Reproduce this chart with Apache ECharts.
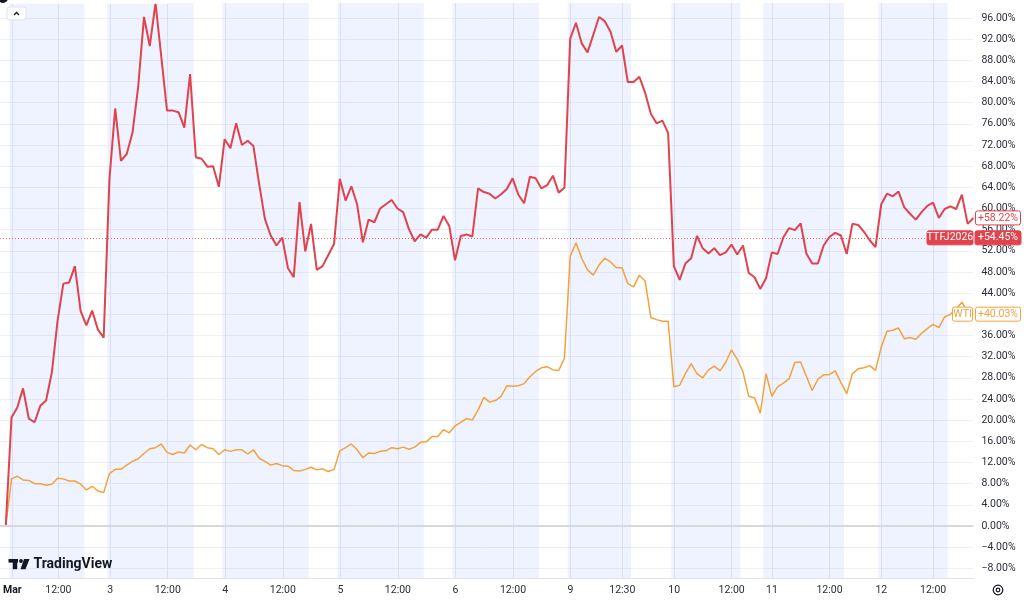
<!DOCTYPE html>
<html>
<head>
<meta charset="utf-8">
<script src="https://cdn.jsdelivr.net/npm/echarts@6/dist/echarts.min.js"></script>
<style>
html, body { margin: 0; padding: 0; background: #fff; }
#chart { width: 1024px; height: 600px; }
</style>
</head>
<body>
<div id="chart"></div>
<script>
// % change since start, one value per 30-min bar
var ttf = [
    0, 0, 20.5, 22.4, 26.0, 20.3, 19.6, 22.7, 23.7, 29.0,
    38.8, 45.8, 46.0, 49.1, 40.6, 37.9, 40.7, 37.1, 35.6, 65.5,
    78.9, 69.0, 70.3, 74.3, 83.1, 96.2, 90.7, 98.8, 88.7, 78.5,
    78.5, 78.2, 75.3, 85.4, 69.7, 69.4, 67.9, 68.0, 64.1, 73.1,
    71.4, 76.1, 72.0, 72.8, 71.8, 64.6, 58.0, 54.9, 53.0, 54.5,
    48.7, 47.0, 61.2, 51.9, 57.1, 48.4, 49.1, 51.2, 53.3, 65.6,
    61.5, 64.2, 60.8, 53.6, 57.9, 57.4, 60.0, 60.8, 61.6, 60.0,
    59.3, 56.1, 53.8, 55.1, 54.5, 56.0, 56.0, 58.6, 56.7, 50.2,
    54.8, 55.1, 54.7, 63.8, 63.1, 62.8, 61.9, 62.7, 63.7, 65.7,
    62.6, 61.0, 66.0, 65.7, 63.8, 64.4, 66.2, 63.0, 63.9, 92.1,
    95.1, 91.2, 89.5, 92.8, 96.2, 95.4, 93.4, 89.6, 90.8, 83.9,
    83.9, 84.9, 81.9, 77.9, 76.1, 76.6, 74.3, 49.1, 46.5, 49.6,
    50.6, 54.8, 52.5, 51.5, 52.5, 51.2, 51.7, 53.2, 51.3, 53.0,
    47.8, 47.0, 44.8, 46.8, 51.7, 51.4, 54.5, 56.3, 55.9, 57.2,
    51.5, 49.6, 49.6, 53.0, 54.6, 55.4, 54.9, 51.4, 57.1, 56.9,
    55.6, 54.0, 52.7, 60.8, 62.8, 62.3, 63.2, 60.2, 59.0, 57.9,
    59.3, 60.5, 61.1, 58.2, 59.9, 60.4, 59.9, 62.6, 57.1, 58.2
];
var wti = [
    0, 0, 8.9, 9.4, 8.7, 8.6, 8.0, 8.0, 7.7, 7.9,
    9.0, 8.9, 8.5, 8.5, 7.9, 6.8, 7.5, 6.6, 6.3, 9.9,
    10.7, 10.7, 11.5, 12.2, 12.7, 13.7, 14.6, 14.8, 15.5, 13.9,
    13.5, 14.0, 13.8, 15.3, 14.4, 15.4, 14.8, 14.6, 13.5, 14.4,
    14.1, 14.4, 14.4, 13.6, 14.4, 12.8, 12.2, 11.5, 11.8, 11.4,
    11.3, 10.5, 10.4, 10.7, 11.1, 10.6, 10.8, 10.3, 10.7, 14.2,
    14.8, 15.5, 14.4, 12.9, 13.8, 13.7, 14.1, 14.2, 14.8, 14.6,
    14.9, 14.5, 14.9, 15.8, 15.9, 16.9, 16.9, 18.2, 17.6, 18.9,
    19.6, 20.3, 20.0, 21.9, 24.3, 23.4, 23.7, 24.5, 26.5, 26.4,
    26.5, 26.9, 28.2, 29.2, 29.9, 30.1, 29.5, 29.4, 31.7, 51.0,
    53.5, 50.6, 48.4, 47.4, 49.3, 50.6, 49.9, 48.8, 48.8, 45.8,
    45.2, 47.4, 46.3, 39.4, 39.0, 38.7, 38.7, 26.3, 26.6, 28.8,
    30.7, 28.8, 28.0, 29.5, 30.2, 29.3, 30.9, 33.3, 31.5, 29.1,
    24.5, 24.2, 21.3, 28.8, 24.5, 26.3, 27.0, 27.8, 30.9, 31.0,
    28.3, 25.6, 27.7, 28.6, 28.6, 29.3, 27.1, 25.0, 28.8, 29.7,
    29.9, 30.3, 29.4, 33.8, 36.8, 37.0, 37.4, 35.4, 35.6, 35.3,
    36.4, 37.3, 38.1, 37.5, 39.5, 40.0, 41.0, 42.3, 40.5, 40.0
];
// bar index of each time label
var tickIdx = [2, 10, 19, 29, 39, 49, 59, 69, 79, 89, 99, 108, 117, 127, 134, 144, 153, 162];
var tickLabels = ['Mar', '12:00', '3', '12:00', '4', '12:00', '5', '12:00', '6', '12:00',
                  '9', '12:30', '10', '12:00', '11', '12:00', '12', '12:00'];
// shaded session ranges, in bar index units
var sessions = [[1.5, 14.5], [18.5, 33.5], [38.5, 53.5], [58.5, 73.5], [78.5, 93.5],
                [98.5, 109.5], [116.5, 128.5], [132.5, 146.5], [152.5, 164.5]];
var ttfLast = 58.22, ttfLine = 54.45, wtiLast = 40.03;

var RED = '#e1434d', ORANGE = '#f4a23d';
var FONT = 'Roboto, sans-serif';

var slots = ttf.map(function (v, i) { return i; });
var tickMap = {};
tickIdx.forEach(function (p, k) { tickMap[p] = tickLabels[k]; });
function isTick(i) { return tickMap[i] !== undefined; }

var chart = echarts.init(document.getElementById('chart'));

var option = {
    animation: false,
    textStyle: { fontFamily: FONT },
    grid: [
        { left: -1.77, right: 50.6, top: 3, bottom: 22 },
        { left: -1.77, right: 50.6, top: 18, bottom: 31.7 }
    ],
    xAxis: [
        {
            type: 'category', gridIndex: 0, data: slots, boundaryGap: false,
            axisLine: { show: true, lineStyle: { color: '#e0e3eb' } },
            axisTick: { show: false },
            axisLabel: {
                interval: function (i) { return isTick(i); },
                formatter: function (v, i) {
                    var t = tickMap[i] || '';
                    return t === 'Mar' ? '{m|Mar}' : t;
                },
                margin: 7, fontSize: 10.5, color: '#2a2e39',
                rich: { m: { fontWeight: 'bold', fontSize: 10.5, color: '#131722' } }
            },
            splitLine: {
                show: true,
                interval: function (i) { return isTick(i); },
                lineStyle: { color: '#e8ebf2' }
            }
        },
        { type: 'value', gridIndex: 0, min: 0, max: slots.length - 1, show: false },
        { type: 'category', gridIndex: 1, data: slots, boundaryGap: false, show: false }
    ],
    yAxis: [
        { type: 'value', gridIndex: 0, min: 0, max: 1, show: false },
        {
            type: 'value', gridIndex: 1, position: 'right',
            min: -8, max: 96, interval: 4,
            axisLine: { show: false }, axisTick: { show: false },
            axisLabel: {
                margin: 8, fontSize: 10.5, color: '#2a2e39',
                formatter: function (v) {
                    return (v < 0 ? '\u2212' : '') + Math.abs(v).toFixed(2) + '%';
                }
            },
            splitLine: { lineStyle: { color: '#eef0f4' } }
        }
    ],
    series: [
        {
            // session shading
            type: 'line', xAxisIndex: 1, yAxisIndex: 0, data: [[0, 0]],
            symbol: 'none', lineStyle: { opacity: 0 }, silent: true, z: 0,
            markArea: {
                silent: true,
                itemStyle: { color: 'rgba(41,98,255,0.075)' },
                data: sessions.map(function (s) { return [{ xAxis: s[0] }, { xAxis: s[1] }]; })
            }
        },
        {
            // zero line
            type: 'line', xAxisIndex: 2, yAxisIndex: 1, data: [], z: 1, silent: true,
            markLine: {
                symbol: 'none', silent: true, label: { show: false },
                lineStyle: { color: '#d6d8de', width: 2, type: 'solid' },
                data: [{ yAxis: 0 }]
            }
        },
        {
            name: 'WTI', type: 'line', xAxisIndex: 2, yAxisIndex: 1,
            data: wti, symbol: 'none', clip: false,
            lineStyle: { color: ORANGE, width: 1.5 }
        },
        {
            name: 'TTFJ2026', type: 'line', xAxisIndex: 2, yAxisIndex: 1,
            data: ttf, symbol: 'none', clip: false,
            lineStyle: { color: RED, width: 2 },
            markLine: {
                symbol: 'none', silent: true, label: { show: false },
                lineStyle: { color: RED, width: 1, type: [1, 2], opacity: 0.8 },
                data: [{ yAxis: ttfLine }]
            }
        }
    ]
};
chart.setOption(option);

function yPix(v) { return chart.convertToPixel({ yAxisIndex: 1 }, v); }

function box(x, y, w, text, color, filled) {
    return [
        {
            type: 'rect', shape: { x: x, y: y - 7, width: w, height: 14, r: 2 },
            style: { fill: filled ? color : '#fff', stroke: color, lineWidth: 1 }, z: 10
        },
        {
            type: 'text', x: x + w / 2, y: y,
            style: {
                text: text, fill: filled ? '#fff' : color, font: '10.5px ' + FONT,
                align: 'center', verticalAlign: 'middle'
            }, z: 11
        }
    ];
}

var g = [];
g = g.concat(box(975.5, yPix(ttfLast), 45, '+' + ttfLast.toFixed(2) + '%', RED, false));
g = g.concat(box(927, yPix(ttfLine), 46, 'TTFJ2026', RED, true));
g = g.concat(box(975, yPix(ttfLine), 46, '+' + ttfLine.toFixed(2) + '%', RED, true));
g = g.concat(box(952.5, yPix(wtiLast), 20, 'WTI', ORANGE, false));
g = g.concat(box(975.5, yPix(wtiLast), 45, '+' + wtiLast.toFixed(2) + '%', ORANGE, false));

// top-left bits
g.push({ type: 'rect', shape: { x: 0, y: 0, width: 168, height: 4 }, style: { fill: 'rgba(255,255,255,0.75)' }, z: 5 });
g.push({ type: 'circle', shape: { cx: 3, cy: -2, r: 5 }, style: { fill: '#131722' }, z: 6 });
g.push({ type: 'rect', shape: { x: 7, y: 7, width: 19, height: 13, r: 3 }, style: { fill: '#fff', stroke: '#e0e3eb', lineWidth: 1 }, z: 6 });
g.push({ type: 'polyline', shape: { points: [[14, 15], [16.5, 12.5], [19, 15]] }, style: { stroke: '#131722', lineWidth: 1.3, fill: null }, z: 7 });

// TradingView logo
g.push({ type: 'rect', shape: { x: 8.5, y: 559, width: 9.5, height: 3.6 }, style: { fill: '#131722' }, z: 6 });
g.push({ type: 'rect', shape: { x: 12.8, y: 559, width: 4.4, height: 10.2 }, style: { fill: '#131722' }, z: 6 });
g.push({ type: 'circle', shape: { cx: 21, cy: 561, r: 1.9 }, style: { fill: '#131722' }, z: 6 });
g.push({ type: 'polygon', shape: { points: [[24, 559], [29.5, 559], [25.5, 569.2], [20.5, 569.2]] }, style: { fill: '#131722' }, z: 6 });
g.push({
    type: 'text', x: 33.5, y: 564.5,
    style: { text: 'TradingView', font: 'bold 14px ' + FONT, fill: '#131722', verticalAlign: 'middle' }, z: 6
});

// settings icon
g.push({ type: 'circle', shape: { cx: 998, cy: 590, r: 4.8 }, style: { fill: null, stroke: '#131722', lineWidth: 1.2 }, z: 6 });
g.push({ type: 'circle', shape: { cx: 998, cy: 590, r: 1.8 }, style: { fill: null, stroke: '#131722', lineWidth: 1.2 }, z: 6 });

chart.setOption({ graphic: g });
</script>
</body>
</html>
